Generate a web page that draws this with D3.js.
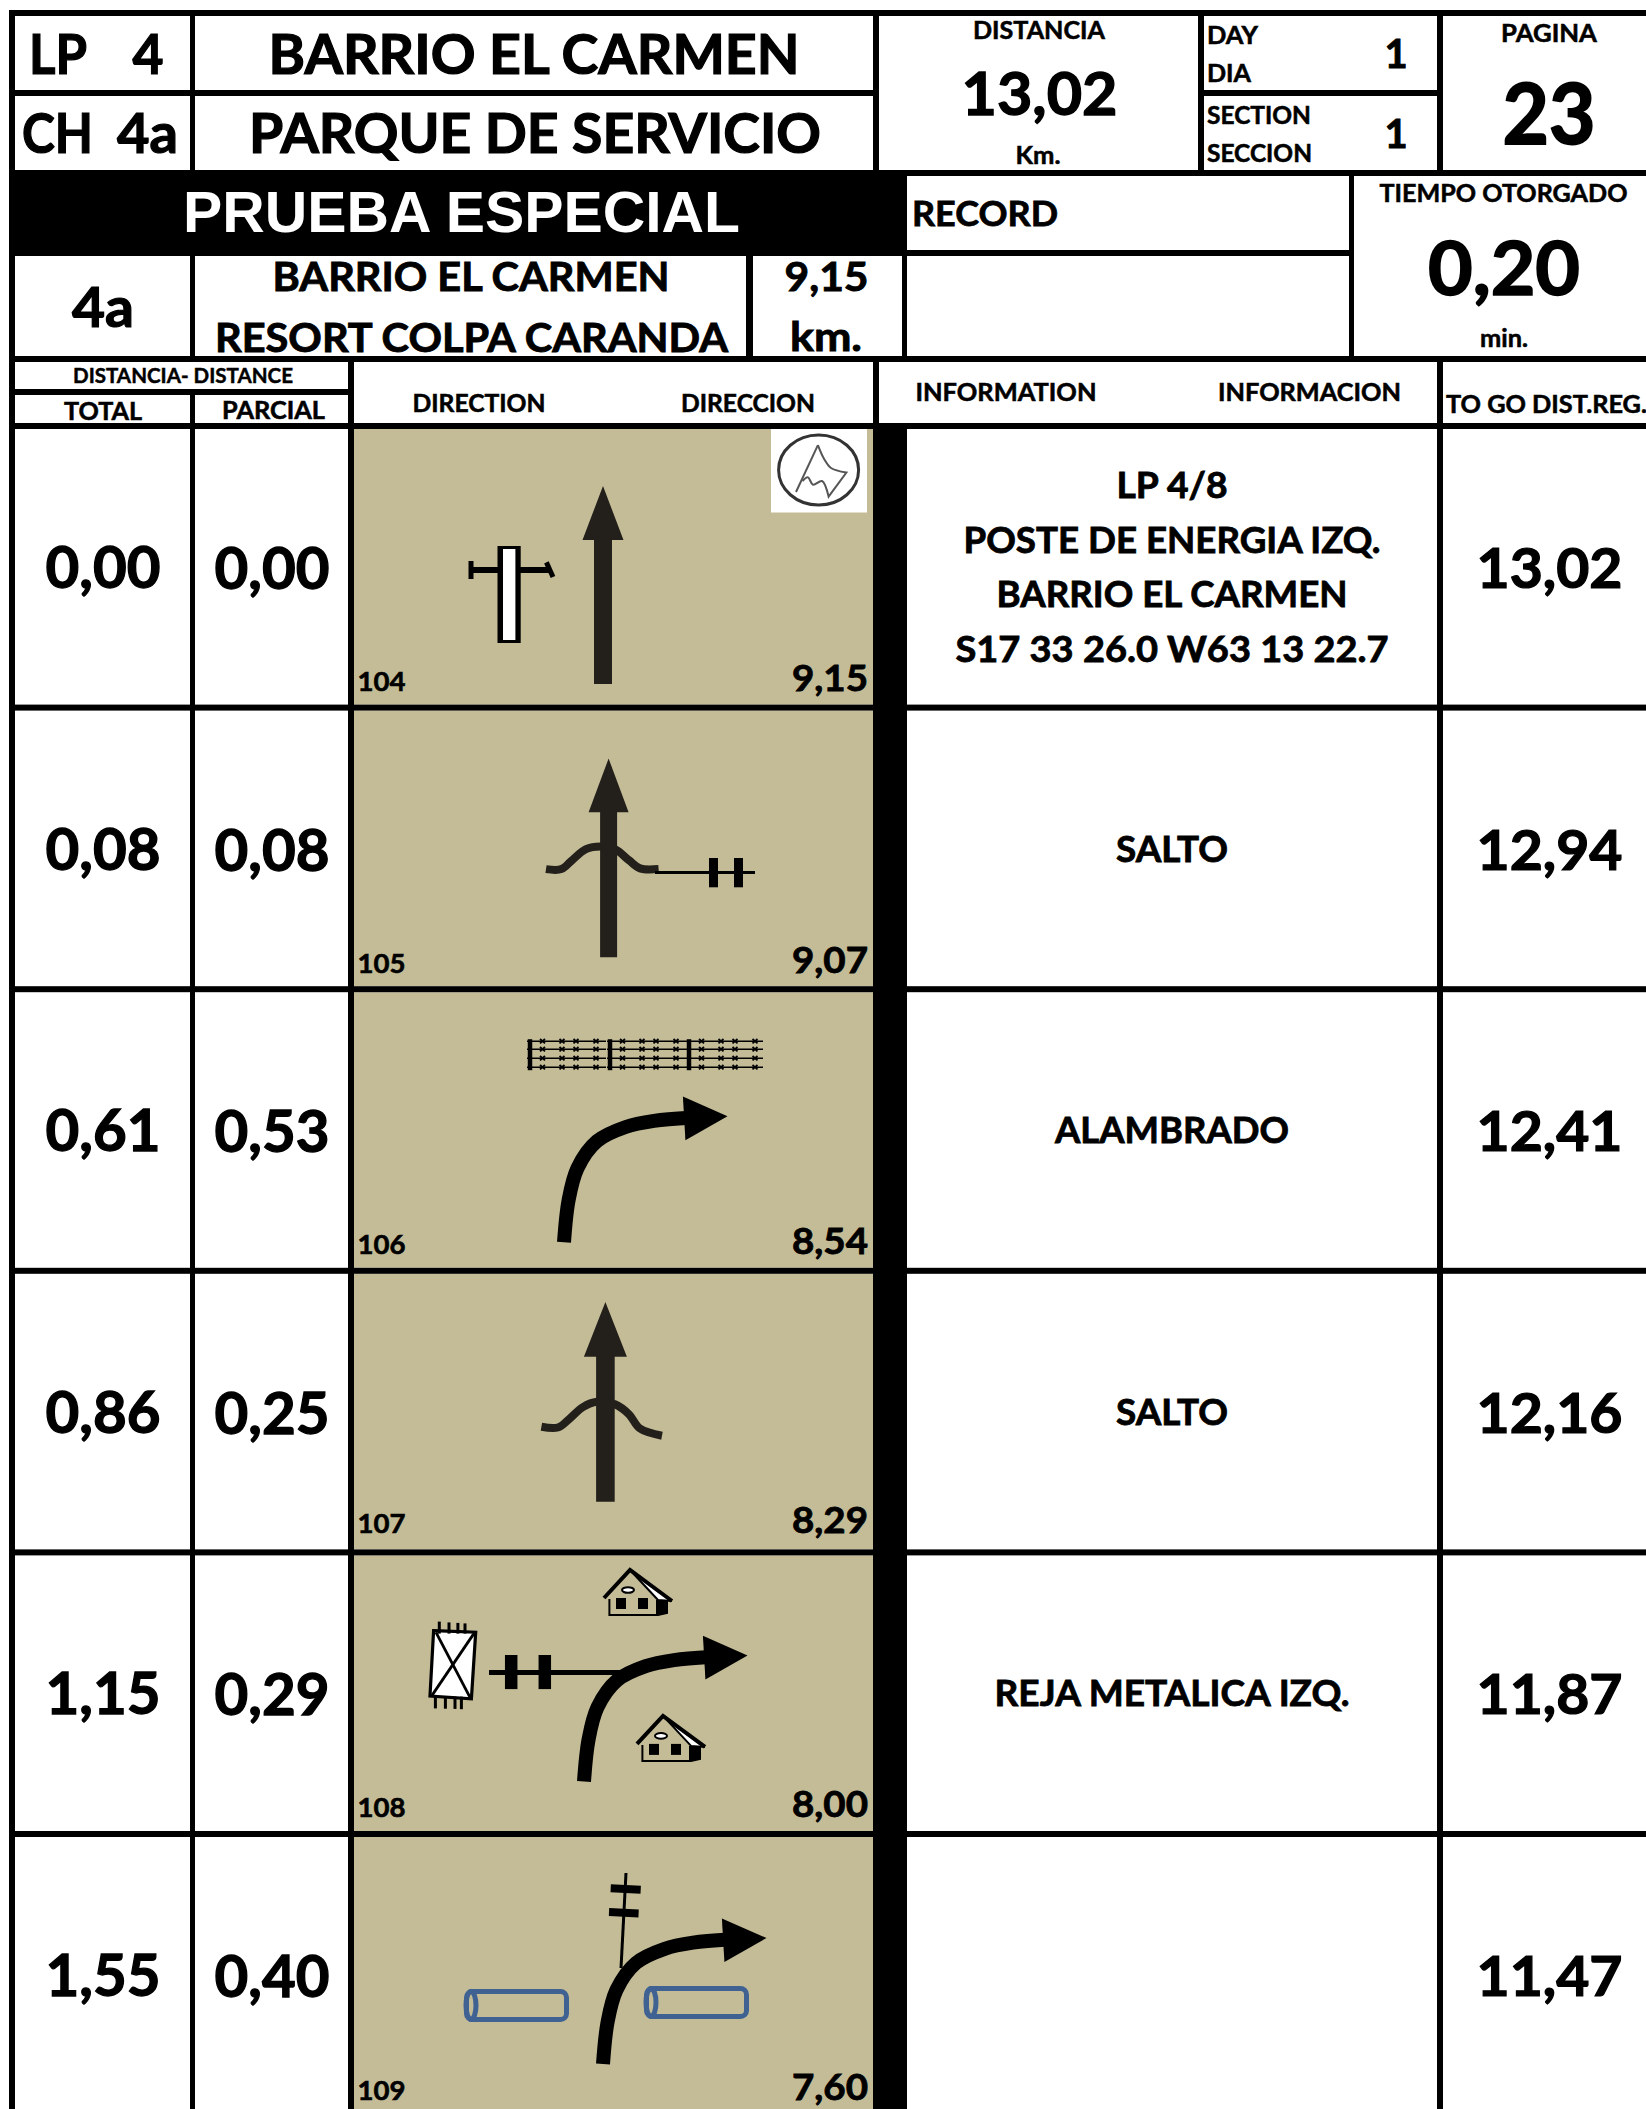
<!DOCTYPE html>
<html>
<head>
<meta charset="utf-8">
<style>
    html, body { margin: 0; padding: 0; background: #fff; }
    svg { display: block; }
    text { font-family: Lato, "Open Sans", sans-serif; font-weight: 700; fill: #000; stroke: #000; paint-order: stroke; }
</style>
</head>
<body>
<div id="sheet"></div>
<script src="https://cdn.jsdelivr.net/npm/d3@7"></script>
<script>
const rowIds = ["104", "105", "106", "107", "108", "109"]
const rowTotals = ["0,00", "0,08", "0,61", "0,86", "1,15", "1,55"]
const rowPartials = ["0,00", "0,08", "0,53", "0,25", "0,29", "0,40"]
const rowRemaining = ["9,15", "9,07", "8,54", "8,29", "8,00", "7,60"]
const rowToGo = ["13,02", "12,94", "12,41", "12,16", "11,87", "11,47"]
const rowInfo = [
    ["LP 4/8", "POSTE DE ENERGIA IZQ.", "BARRIO EL CARMEN", "S17 33 26.0 W63 13 22.7"],
    ["SALTO"],
    ["ALAMBRADO"],
    ["SALTO"],
    ["REJA METALICA IZQ."],
    []
]

const width = 1646
const height = 2109
const ink = "#000"
const arrowInk = "#23201b"
const tan = "#c4bc97"
const tubeBlue = "#3f6293"

// measured widths of the information lines
const infoWidths = new Map([
    ["LP 4/8", 111], ["POSTE DE ENERGIA IZQ.", 417], ["BARRIO EL CARMEN", 351],
    ["S17 33 26.0 W63 13 22.7", 433], ["SALTO", 112], ["ALAMBRADO", 234], ["REJA METALICA IZQ.", 355]
])

const svg = d3.select("#sheet").append("svg")
    .attr("width", width)
    .attr("height", height)

svg.append("rect").attr("width", width).attr("height", height).attr("fill", "#fff")

// top of each row's cell, line sits just above it
const rowY = d3.scaleLinear().domain([0, 1]).range([429, 710.6])
const colX = d3.scaleOrdinal()
    .domain(["total", "partial", "remaining", "info", "togo"])
    .range([103, 272, 830, 1172, 1549.5])

function label(parent, str, x, y, size, len, anchor) {
    const t = parent.append("text")
        .attr("x", x)
        .attr("y", y)
        .attr("font-size", size)
        .attr("text-anchor", anchor || "middle")
        .attr("stroke-width", size * 0.022)
        .text(str)
    if (len) t.attr("textLength", len).attr("lengthAdjust", "spacingAndGlyphs")
    return t
}

// tan tiles first, rules over them
svg.append("g").selectAll("rect")
    .data(rowIds)
    .enter().append("rect")
    .attr("x", 354)
    .attr("y", (d, i) => rowY(i))
    .attr("width", 873 - 354)
    .attr("height", (d, i) => Math.min(rowY(i + 1) - 6, height) - rowY(i))
    .attr("fill", tan)

const rules = [
    [9, 10, width, 16], [9, 90, 873, 96], [1204, 90, 1437, 96],
    [9, 170, width, 176], [9, 170, 907, 256], [907, 250, 1349, 256],
    [9, 356, width, 362], [9, 389, 348, 395], [9, 423, width, 429],
    [9, 10, 15, height], [190, 10, 195, 170], [190, 256, 195, 356], [190, 395, 195, height],
    [348, 362, 354, height], [746, 256, 753, 356], [873, 10, 879, 170], [873, 362, 879, 423],
    [873, 429, 907, height], [902, 256, 907, 356], [1198, 10, 1204, 170],
    [1349, 176, 1354, 356], [1437, 10, 1443, 170], [1437, 362, 1443, height]
]
rowIds.slice(1).forEach((d, i) => rules.push([9, rowY(i + 1) - 6, width, rowY(i + 1)]))

svg.append("g").selectAll("rect")
    .data(rules)
    .enter().append("rect")
    .attr("x", d => d[0])
    .attr("y", d => d[1])
    .attr("width", d => d[2] - d[0])
    .attr("height", d => d[3] - d[1])
    .attr("fill", ink)

// header block
const head = svg.append("g")
label(head, "LP", 58, 74, 55, 58)
label(head, "4", 148, 74, 55, 31)
label(head, "BARRIO EL CARMEN", 534, 74, 55, 531)
label(head, "CH", 57.5, 153, 55, 71)
label(head, "4a", 147.5, 153, 55, 61)
label(head, "PARQUE DE SERVICIO", 535, 153, 55, 572)
label(head, "DISTANCIA", 1039, 38.5, 24, 132)
label(head, "13,02", 1039.5, 115, 60, 156)
label(head, "Km.", 1038, 164, 25, 45)
label(head, "DAY", 1207, 43.5, 25, 51, "start")
label(head, "DIA", 1207, 81.5, 25, 44, "start")
label(head, "SECTION", 1207, 124, 25, 104, "start")
label(head, "SECCION", 1207, 162, 25, 105, "start")
label(head, "1", 1396, 68, 40)
label(head, "1", 1396, 148, 40)
label(head, "PAGINA", 1549, 41.7, 25, 96)
label(head, "23", 1549, 144, 85, 93)
label(head, "PRUEBA ESPECIAL", 461.5, 232, 57, 557)
    .style("font-family", "'Liberation Sans', Arial, sans-serif")
    .style("fill", "#fff")
    .style("stroke", "none")
label(head, "RECORD", 912, 225.7, 35, 146, "start")
label(head, "TIEMPO OTORGADO", 1503.5, 202, 24, 248)
label(head, "0,20", 1504, 295, 74, 152)
label(head, "min.", 1504, 346.7, 24, 48)
label(head, "4a", 103, 327, 56, 62)
label(head, "BARRIO EL CARMEN", 471, 291, 40, 397)
label(head, "RESORT COLPA CARANDA", 471.5, 352, 40, 513)
label(head, "9,15", 826.5, 291, 40, 84)
label(head, "km.", 826, 351, 40, 72)
label(head, "DISTANCIA- DISTANCE", 183, 383, 20, 220)
label(head, "TOTAL", 103, 420, 25, 78)
label(head, "PARCIAL", 273.5, 419, 25, 103)
label(head, "DIRECTION", 479, 412, 25, 133)
label(head, "DIRECCION", 748, 412, 25, 134)
label(head, "INFORMATION", 1006, 401, 25, 181)
label(head, "INFORMACION", 1309.5, 401, 25, 183)
label(head, "TO GO DIST.REG.", 1446, 412.6, 25, 201, "start")

// roadbook symbols, coordinates are local to a row tile
const smooth = d3.line().curve(d3.curveCatmullRom)
const straight = d3.line()

function straightArrow(g, cx, tip, base, bottom, headHalf, shaftHalf) {
    g.append("path")
        .attr("d", straight([
            [cx, tip], [cx + headHalf, base], [cx + shaftHalf, base], [cx + shaftHalf, bottom],
            [cx - shaftHalf, bottom], [cx - shaftHalf, base], [cx - headHalf, base]
        ]) + "Z")
        .attr("fill", arrowInk)
}

function curvedArrow(g, dx, dy) {
    const a = g.append("g").attr("transform", `translate(${dx},${dy})`)
    a.append("path")
        .attr("d", smooth([[564, 250], [568.6, 208], [577.5, 175.9], [597, 149], [625.7, 134.8], [654, 128.7], [690, 125.6]]))
        .attr("fill", "none")
        .attr("stroke", ink)
        .attr("stroke-width", 14)
    a.append("path")
        .attr("d", straight([[727.5, 124], [682.9, 104.4], [685.4, 148]]) + "Z")
        .attr("fill", ink)
}

function jump(g, pts) {
    g.append("path")
        .attr("d", smooth(pts))
        .attr("fill", "none")
        .attr("stroke", arrowInk)
        .attr("stroke-width", 8)
}

function segment(g, x1, y1, x2, y2, w, col) {
    g.append("line")
        .attr("x1", x1).attr("y1", y1)
        .attr("x2", x2).attr("y2", y2)
        .attr("stroke", col || ink)
        .attr("stroke-width", w)
}

function house(g, x, y) {
    const h = g.append("g").attr("transform", `translate(${x},${y})`)
    h.append("path")
        .attr("d", straight([[5.4, 30], [5.4, 46], [54, 46], [63, 44], [63, 30]]))
        .attr("fill", "none").attr("stroke", ink).attr("stroke-width", 2)
    h.append("path")
        .attr("d", straight([[52, 31], [63, 31], [63, 44], [52, 46]]) + "Z")
        .attr("fill", ink)
    h.append("path")
        .attr("d", straight([[28, 3], [48, 15], [66, 31], [54, 31]]) + "Z")
        .attr("fill", "#fff")
    h.append("path")
        .attr("d", straight([[0, 29], [26, 1], [68, 32]]))
        .attr("fill", "none").attr("stroke", ink).attr("stroke-width", 4)
    h.append("path")
        .attr("d", straight([[26, 1], [54, 31], [68, 32]]))
        .attr("fill", "none").attr("stroke", ink).attr("stroke-width", 2)
    h.selectAll("rect.win")
        .data([12, 34])
        .enter().append("rect")
        .attr("x", d => d).attr("y", 29)
        .attr("width", 10).attr("height", 11)
        .attr("fill", ink)
    h.append("ellipse")
        .attr("cx", 24).attr("cy", 21).attr("rx", 6).attr("ry", 2.8)
        .attr("fill", "#fff").attr("stroke", ink).attr("stroke-width", 2)
}

function tube(g, x, y) {
    const t = g.append("g").attr("transform", `translate(${x},${y})`)
        .attr("fill", "none").attr("stroke", tubeBlue).attr("stroke-width", 5)
    t.append("rect").attr("x", 2.5).attr("y", 2.5).attr("width", 100).attr("height", 28).attr("rx", 6)
    t.append("ellipse").attr("cx", 7).attr("cy", 16.5).attr("rx", 5).attr("ry", 14)
}

const tiles = rowIds.map((d, i) => svg.append("g").attr("transform", `translate(0,${rowY(i)})`))

// 104: pole and start flag
let g = tiles[0]
segment(g, 471, 141, 549, 141, 6)
segment(g, 471, 132, 471, 150, 5)
segment(g, 546.4, 133.4, 553, 148, 5)
g.append("rect").attr("x", 497.5).attr("y", 117).attr("width", 23.2).attr("height", 97).attr("fill", ink)
g.append("rect").attr("x", 503).attr("y", 120).attr("width", 12.4).attr("height", 91).attr("fill", "#fff")
straightArrow(g, 603, 57, 111, 255, 20.5, 9)
g.append("rect").attr("x", 771).attr("y", 0).attr("width", 96).attr("height", 83.5).attr("fill", "#fff")
g.append("ellipse")
    .attr("cx", 818.6).attr("cy", 41).attr("rx", 40).attr("ry", 35)
    .attr("fill", "none").attr("stroke", "#333").attr("stroke-width", 3)
g.append("path")
    .attr("d", straight([[796, 63], [817.9, 16.2]]))
    .attr("fill", "none").attr("stroke", "#555").attr("stroke-width", 2)
g.append("path")
    .attr("d", smooth([[817.9, 16.2], [824, 29.8], [831, 39], [846.4, 43.5]]) + "L828.6,67.6" +
        smooth([[828.6, 67.6], [822, 52], [813, 55.7], [807.9, 48.3], [802.5, 52]]).replace("M", "L"))
    .attr("fill", "none").attr("stroke", "#555").attr("stroke-width", 2)

// 105: jump with wire fence
g = tiles[1]
straightArrow(g, 608.6, 47.9, 101.6, 246.6, 20, 8.5)
jump(g, [[546, 158.5], [561.4, 158.5], [572, 149.7], [586, 138.6], [600.7, 136], [615, 138.6], [629, 149.7], [640, 157.8], [658.6, 158.5]])
segment(g, 655, 161.9, 755, 161.9, 3)
segment(g, 713.5, 147.4, 713.5, 176.7, 9)
segment(g, 738.5, 147.4, 738.5, 176.7, 9)

// 106: barbed wire, curve right
g = tiles[2]
const wires = [49, 57, 66, 75]
const posts = [530, 610, 689]
posts.forEach((p, n) => {
    segment(g, p, 47, p, 78, 4.5)
    wires.forEach(w => {
        segment(g, p - 3, w, n === 2 ? 763 : p + 76, w, 1.6)
        const barbs = [12.5, 32, 46, 66]
        barbs.forEach(b => {
            segment(g, p + b - 2.5, w - 2.2, p + b + 2.5, w + 2.2, 1.8)
            segment(g, p + b - 2.5, w + 2.2, p + b + 2.5, w - 2.2, 1.8)
        })
    })
})
curvedArrow(g, 0, 0)

// 107: jump
g = tiles[3]
straightArrow(g, 605.4, 28.3, 83, 228, 21.5, 9.3)
jump(g, [[541.4, 153], [557.9, 153.7], [568.6, 145.8], [582.9, 133.3], [597, 128], [615, 130.5], [629, 140.5], [640, 154.8], [662, 161.9]])

// 108: metal gate, wire, houses
g = tiles[4]
g.append("path")
    .attr("d", straight([[433.6, 75.3], [475.7, 76.8], [471.4, 143.5], [430, 140.6]]) + "Z")
    .attr("fill", "#fff").attr("stroke", ink).attr("stroke-width", 3.2)
segment(g, 436, 77, 470, 142, 2.8)
segment(g, 474, 78, 432, 140, 2.8)
const gateTop = [[439.3, 66.2], [449, 67], [457.9, 67.5], [465, 68]]
const gateBottom = [[435.4, 153], [445.4, 153.3], [455, 153.5], [461.4, 153.8]]
gateTop.forEach(d => segment(g, d[0], d[1], d[0], 78.2, 3))
gateBottom.forEach(d => segment(g, d[0], 141.3, d[0], d[1], 3))
segment(g, 489, 117, 620, 117, 5)
segment(g, 511.2, 99.6, 511.2, 133.7, 12.5)
segment(g, 544.8, 99.6, 544.8, 133.7, 12.5)
curvedArrow(g, 20, -24)
house(g, 604, 13.6)
house(g, 637, 159.5)

// 109: pole and tubes
g = tiles[5]
segment(g, 626, 36, 621, 131, 3)
segment(g, 610.7, 51.3, 640.7, 52.8, 8)
segment(g, 609, 75, 638.6, 76.4, 8)
curvedArrow(g, 39, -23)
tube(g, 464, 151.9)
tube(g, 644, 149)

// row texts
const rowBaselines = [262, 262, 262, 259, 262, 263]
tiles.forEach((t, i) => {
    label(t, rowTotals[i], colX("total"), 159, 57, 115)
    label(t, rowPartials[i], colX("partial"), 160, 57, 115)
    label(t, rowToGo[i], colX("togo"), 159, 56, 146)
    label(t, rowIds[i], 357.5, rowBaselines[i], 27.5, 48, "start")
    label(t, rowRemaining[i], colX("remaining"), rowBaselines[i], 36, 76)
    if (rowInfo[i].length === 1) {
        label(t, rowInfo[i][0], colX("info"), 151, 36, infoWidths.get(rowInfo[i][0]))
    } else {
        rowInfo[i].forEach((line, n) => label(t, line, colX("info"), 69 + n * 54.6, 36, infoWidths.get(line)))
    }
})
</script>
</body>
</html>
